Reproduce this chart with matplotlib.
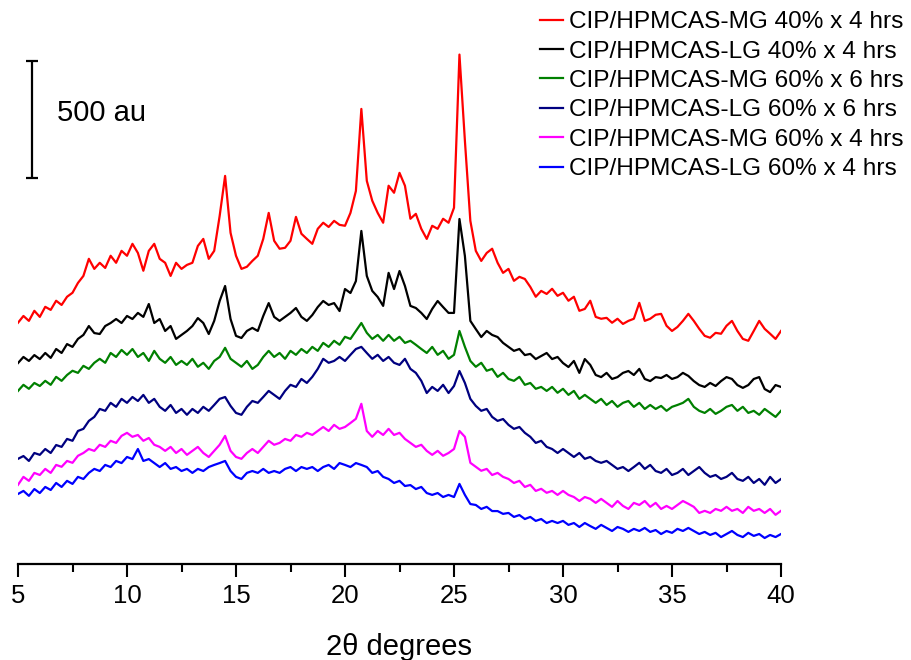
import numpy as np
import matplotlib.pyplot as plt

# 2-theta grid of the digitised patterns (0.25 degree steps)
two_theta = np.linspace(5, 40, 141)

labels = ['CIP/HPMCAS-MG 40% x 4 hrs', 'CIP/HPMCAS-LG 40% x 4 hrs',
          'CIP/HPMCAS-MG 60% x 6 hrs', 'CIP/HPMCAS-LG 60% x 6 hrs',
          'CIP/HPMCAS-MG 60% x 4 hrs', 'CIP/HPMCAS-LG 60% x 4 hrs']

# intensities (au)
mg40_4h = [120, 149, 128, 171, 145, 188, 175, 214, 196, 231,
           248, 290, 320, 393, 350, 376, 354, 406, 376, 427,
           406, 457, 418, 342, 427, 457, 393, 376, 320, 376,
           350, 367, 376, 448, 478, 393, 427, 576, 747, 504,
           406, 350, 359, 384, 406, 478, 589, 470, 436, 440,
           470, 572, 500, 478, 457, 521, 547, 529, 555, 538,
           534, 589, 683, 1033, 726, 641, 589, 547, 705, 675,
           760, 705, 564, 585, 521, 478, 534, 521, 564, 547,
           611, 1265, 897, 555, 427, 384, 418, 436, 376, 333,
           350, 299, 316, 307, 273, 231, 256, 243, 265, 235,
           248, 214, 231, 171, 179, 214, 145, 137, 141, 120,
           137, 115, 128, 137, 205, 128, 137, 154, 158, 107,
           85, 102, 128, 158, 128, 94, 64, 56, 77, 73,
           107, 128, 85, 51, 43, 85, 128, 94, 73, 51,
           85]
lg40_4h = [162, 188, 171, 196, 179, 205, 184, 222, 205, 243,
           231, 265, 282, 320, 290, 286, 320, 333, 350, 333,
           363, 350, 376, 359, 414, 333, 350, 299, 320, 265,
           282, 299, 320, 354, 333, 286, 342, 427, 491, 350,
           278, 269, 299, 312, 299, 363, 418, 359, 342, 359,
           376, 397, 359, 342, 367, 401, 427, 410, 418, 384,
           478, 461, 512, 726, 534, 470, 444, 406, 547, 478,
           555, 491, 406, 397, 376, 350, 393, 427, 401, 376,
           376, 777, 619, 342, 307, 273, 299, 282, 273, 248,
           231, 214, 222, 196, 201, 179, 192, 205, 179, 188,
           162, 145, 171, 120, 179, 154, 111, 102, 120, 94,
           102, 120, 128, 111, 137, 94, 85, 102, 98, 111,
           94, 102, 120, 107, 85, 68, 60, 77, 64, 85,
           102, 94, 68, 56, 68, 94, 102, 51, 38, 68,
           60]
mg60_6h = [128, 154, 137, 162, 149, 171, 154, 188, 171, 196,
           214, 205, 235, 222, 248, 265, 248, 290, 273, 303,
           282, 307, 273, 290, 256, 299, 265, 248, 273, 239,
           256, 239, 265, 231, 248, 222, 256, 273, 312, 265,
           248, 231, 256, 222, 239, 273, 299, 273, 290, 265,
           299, 282, 307, 290, 316, 299, 333, 316, 342, 325,
           359, 350, 384, 418, 376, 350, 367, 342, 367, 342,
           359, 333, 342, 325, 307, 290, 316, 282, 299, 265,
           282, 384, 316, 256, 231, 248, 214, 222, 188, 205,
           179, 171, 188, 154, 162, 137, 145, 128, 145, 120,
           137, 111, 128, 94, 111, 94, 77, 94, 68, 85,
           60, 77, 85, 60, 77, 51, 68, 51, 64, 43,
           60, 68, 77, 94, 60, 43, 34, 51, 30, 43,
           60, 68, 43, 60, 34, 43, 26, 51, 34, 17,
           43]
lg60_6h = [137, 149, 128, 162, 154, 179, 162, 196, 188, 222,
           214, 256, 265, 299, 316, 350, 342, 376, 359, 393,
           376, 401, 384, 410, 376, 393, 359, 342, 367, 333,
           350, 325, 350, 333, 359, 342, 367, 393, 401, 363,
           333, 325, 359, 384, 376, 401, 427, 410, 393, 427,
           453, 444, 478, 461, 487, 521, 564, 547, 555, 572,
           555, 581, 606, 615, 589, 564, 581, 555, 572, 547,
           538, 564, 521, 504, 470, 418, 444, 427, 453, 418,
           448, 512, 461, 393, 363, 342, 350, 316, 299, 307,
           282, 265, 273, 248, 231, 205, 214, 188, 179, 162,
           179, 162, 145, 162, 137, 145, 128, 120, 128, 111,
           94, 102, 85, 102, 120, 94, 111, 85, 77, 94,
           68, 77, 94, 68, 85, 102, 77, 60, 68, 51,
           60, 77, 51, 43, 60, 34, 51, 26, 60, 34,
           51]
mg60_4h = [154, 188, 171, 205, 196, 222, 205, 239, 231, 256,
           248, 278, 290, 307, 299, 325, 316, 342, 333, 363,
           376, 359, 367, 342, 354, 325, 316, 299, 316, 290,
           307, 282, 299, 316, 290, 273, 299, 325, 363, 299,
           273, 265, 290, 307, 290, 316, 342, 325, 333, 350,
           342, 367, 359, 376, 367, 384, 401, 384, 410, 393,
           401, 418, 436, 500, 384, 359, 384, 367, 393, 367,
           376, 350, 333, 316, 325, 299, 282, 299, 278, 290,
           307, 384, 359, 248, 231, 214, 222, 196, 205, 188,
           179, 162, 171, 145, 154, 128, 137, 120, 128, 111,
           128, 111, 102, 85, 102, 94, 77, 94, 77, 60,
           85, 64, 51, 77, 68, 85, 60, 77, 51, 64,
           51, 68, 85, 73, 60, 34, 43, 34, 51, 43,
           60, 43, 51, 34, 60, 43, 51, 34, 51, 26,
           43]
lg60_4h = [222, 235, 214, 243, 226, 252, 239, 269, 252, 278,
           265, 295, 286, 312, 329, 320, 346, 337, 363, 354,
           380, 371, 414, 363, 371, 354, 337, 354, 329, 337,
           320, 329, 312, 329, 320, 337, 346, 354, 363, 320,
           295, 286, 312, 320, 312, 329, 312, 320, 312, 329,
           337, 320, 337, 329, 337, 320, 337, 346, 329, 354,
           346, 337, 354, 346, 337, 312, 320, 295, 286, 269,
           278, 256, 260, 243, 252, 226, 218, 226, 209, 218,
           209, 265, 218, 179, 175, 158, 167, 149, 149, 137,
           141, 124, 132, 115, 124, 107, 115, 98, 107, 98,
           107, 90, 98, 81, 98, 85, 73, 90, 77, 64,
           81, 73, 60, 73, 64, 77, 60, 68, 51, 64,
           56, 73, 64, 77, 64, 51, 60, 47, 56, 38,
           51, 64, 47, 38, 56, 43, 51, 34, 47, 38,
           51]

patterns = [mg40_4h, lg40_4h, mg60_6h, lg60_6h, mg60_4h, lg60_4h]
# vertical stacking offsets (au)
offsets = [910, 696, 611, 312, 184, 77]
colors = ['#ff0000', '#000000', '#008000', '#000080', '#ff00ff', '#0000ff']

plt.rcParams['font.family'] = ['Liberation Sans', 'DejaVu Sans']

fig = plt.figure(figsize=(9.11, 6.6), dpi=100)
ax = fig.add_axes([18/911, 1 - 564/660, 763/911, 564/660])

for pattern, off, c, lab in zip(patterns, offsets, colors, labels):
    ax.plot(two_theta, np.array(pattern) + off, color=c, lw=1.6, label=lab)

ax.set_xlim(5, 40)
ax.set_ylim(0, 2408)
for side in ['left', 'right', 'top']:
    ax.spines[side].set_visible(False)
ax.spines['bottom'].set_linewidth(1.6)
ax.set_yticks([])
ax.set_xticks(np.arange(5, 41, 5))
ax.set_xticks(np.arange(7.5, 40, 5), minor=True)
ax.tick_params(axis='x', which='major', direction='out', length=9.5, width=1.5,
               labelsize=18.5, pad=5)
ax.tick_params(axis='x', which='minor', direction='out', length=5.5, width=1.5)
ax.set_xlabel('2θ degrees', fontsize=21, labelpad=18)

# 500 au scale bar
ax.errorbar(5.64, 1898, yerr=250, color='k', lw=1.6, capsize=4.5, capthick=1.6)
ax.text(6.79, 1926, '500 au', fontsize=21, va='center', ha='left')

ax.legend(loc='upper left', bbox_to_anchor=(540/911, 1 - 11/660),
          bbox_transform=fig.transFigure, frameon=False, fontsize=17.6,
          handlelength=0.95, handletextpad=0.22, labelspacing=0.3,
          borderpad=0, borderaxespad=0)

fig.savefig('out.png', dpi=100)
